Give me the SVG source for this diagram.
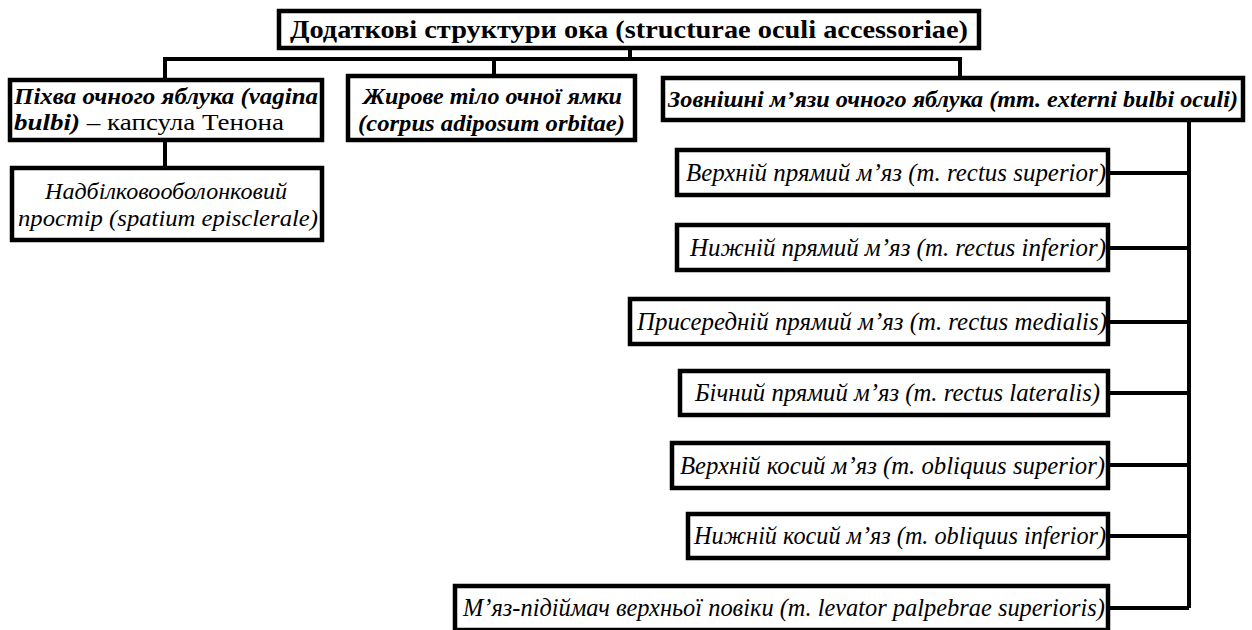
<svg xmlns="http://www.w3.org/2000/svg" width="1252" height="630" viewBox="0 0 1252 630" font-family="'Liberation Serif', 'Times New Roman', serif">
  <defs>
    <style>
      .box { fill: #fff; stroke: #000; stroke-width: 4.5; }
      .shadow { fill: #333; }
      .wire { fill: none; stroke: #000; stroke-width: 4; }
      text { fill: #000; }
      .title { font-size: 25px; font-weight: bold; }
      .bi { font-size: 23px; font-weight: bold; font-style: italic; }
      .it { font-size: 25px; font-style: italic; }
      .it2 { font-size: 23px; font-style: italic; }
      .rg { font-weight: normal; font-style: normal; }
    </style>
  </defs>
  <rect width="1252" height="630" fill="#fff"/>

  <!-- connectors -->
  <g id="connectors">
    <path class="wire" d="M630 48 V59 M165 80 V59 H960 V78 M494 59 V76 M165 140 V168"/>
    <path class="wire" d="M1189 120 V608"/>
    <path class="wire" d="M1110 173 H1189 M1110 248 H1189 M1110 322 H1189 M1110 393 H1189 M1110 465 H1189 M1110 536 H1189 M1110 608 H1189"/>
  </g>

  <g id="root">
    <rect class="shadow" x="281" y="13" width="700" height="37"/>
    <rect class="box" x="279" y="11" width="700" height="37"/>
    <text class="title" x="290" y="38" textLength="678" lengthAdjust="spacingAndGlyphs">Додаткові структури  ока (structurae oculi accessoriae)</text>
  </g>

  <g id="vagina">
    <rect class="shadow" x="12" y="82" width="312" height="60"/>
    <rect class="box" x="10" y="80" width="312" height="60"/>
    <text class="bi" x="14" y="104" textLength="304" lengthAdjust="spacingAndGlyphs">Піхва очного яблука (vagina</text>
    <text class="bi" x="14" y="130" textLength="270" lengthAdjust="spacingAndGlyphs">bulbi)<tspan class="rg"> – капсула Тенона</tspan></text>
  </g>

  <g id="episclerale">
    <rect class="shadow" x="14" y="170" width="310" height="72"/>
    <rect class="box" x="12" y="168" width="310" height="72"/>
    <text class="it2" x="45" y="199" textLength="242" lengthAdjust="spacingAndGlyphs">Надбілковооболонковий</text>
    <text class="it2" x="18" y="226" textLength="300" lengthAdjust="spacingAndGlyphs">простір (spatium episclerale)</text>
  </g>

  <g id="adiposum">
    <rect class="shadow" x="350" y="78" width="287" height="64"/>
    <rect class="box" x="348" y="76" width="287" height="64"/>
    <text class="bi" x="363" y="104" textLength="259" lengthAdjust="spacingAndGlyphs">Жирове тіло очної ямки</text>
    <text class="bi" x="358" y="131" textLength="267" lengthAdjust="spacingAndGlyphs">(corpus adiposum orbitae)</text>
  </g>

  <g id="externi">
    <rect class="shadow" x="665" y="80" width="580" height="42"/>
    <rect class="box" x="663" y="78" width="580" height="42"/>
    <text class="bi" x="668" y="107" textLength="570" lengthAdjust="spacingAndGlyphs">Зовнішні м’язи очного яблука (mm. externi bulbi oculi)</text>
  </g>

  <g id="rectus-superior">
    <rect class="shadow" x="679" y="152" width="431" height="45"/>
    <rect class="box" x="677" y="150" width="431" height="45"/>
    <text class="it" x="686" y="181" textLength="420" lengthAdjust="spacingAndGlyphs">Верхній прямий м’яз (m. rectus superior)</text>
  </g>

  <g id="rectus-inferior">
    <rect class="shadow" x="679" y="227" width="431" height="45"/>
    <rect class="box" x="677" y="225" width="431" height="45"/>
    <text class="it" x="690" y="256" textLength="416" lengthAdjust="spacingAndGlyphs">Нижній прямий м’яз (m. rectus inferior)</text>
  </g>

  <g id="rectus-medialis">
    <rect class="shadow" x="632" y="301" width="478" height="45"/>
    <rect class="box" x="630" y="299" width="478" height="45"/>
    <text class="it" x="637" y="330" textLength="470" lengthAdjust="spacingAndGlyphs">Присередній прямий м’яз (m. rectus medialis)</text>
  </g>

  <g id="rectus-lateralis">
    <rect class="shadow" x="682" y="373" width="428" height="44"/>
    <rect class="box" x="680" y="371" width="428" height="44"/>
    <text class="it" x="695" y="401" textLength="405" lengthAdjust="spacingAndGlyphs">Бічний прямий м’яз (m. rectus lateralis)</text>
  </g>

  <g id="obliquus-superior">
    <rect class="shadow" x="674" y="445" width="436" height="45"/>
    <rect class="box" x="672" y="443" width="436" height="45"/>
    <text class="it" x="680" y="474" textLength="425" lengthAdjust="spacingAndGlyphs">Верхній косий м’яз (m. obliquus superior)</text>
  </g>

  <g id="obliquus-inferior">
    <rect class="shadow" x="690" y="516" width="420" height="44"/>
    <rect class="box" x="688" y="514" width="420" height="44"/>
    <text class="it" x="694" y="544" textLength="412" lengthAdjust="spacingAndGlyphs">Нижній косий м’яз (m. obliquus inferior)</text>
  </g>

  <g id="levator">
    <rect class="shadow" x="457" y="588" width="653" height="44"/>
    <rect class="box" x="455" y="586" width="653" height="44"/>
    <text class="it" x="463" y="616" textLength="642" lengthAdjust="spacingAndGlyphs">М’яз-підіймач верхньої повіки (m. levator palpebrae superioris)</text>
  </g>
</svg>
